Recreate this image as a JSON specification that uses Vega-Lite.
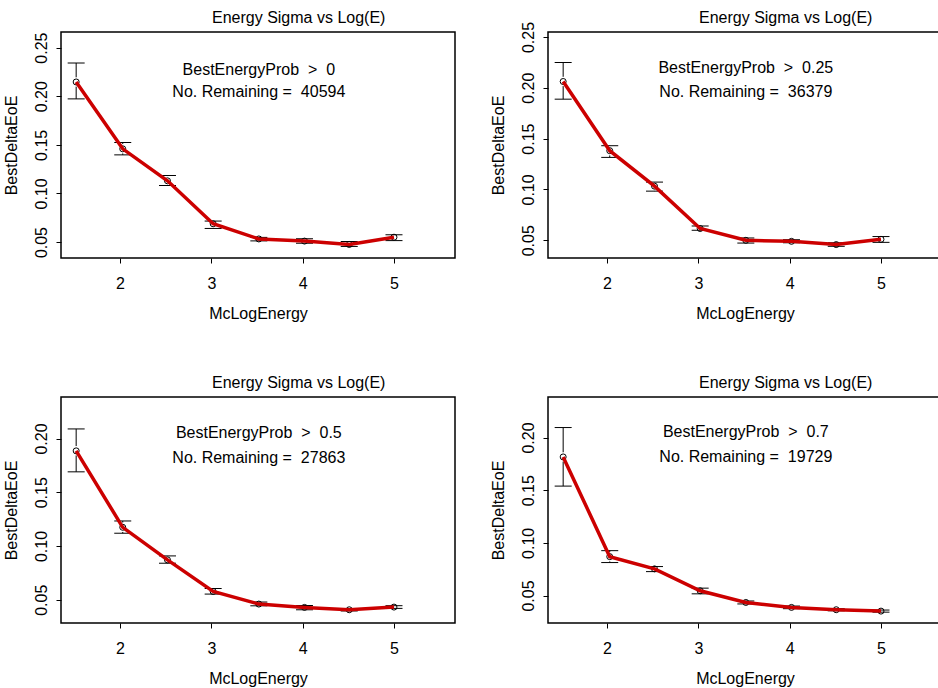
{
 "$schema": "https://vega.github.io/schema/vega-lite/v6.json",
 "autosize": {"type": "none"},
 "padding": {"left": 61, "top": 32, "right": 877, "bottom": 656},
 "background": "white",
 "datasets": {
  "pts": [
   {"panel": "a", "x": 1.52, "mean": 0.2147, "lo": 0.1973, "hi": 0.2342},
   {"panel": "a", "x": 2.03, "mean": 0.1459, "lo": 0.1397, "hi": 0.1524},
   {"panel": "a", "x": 2.52, "mean": 0.1130, "lo": 0.1082, "hi": 0.1185},
   {"panel": "a", "x": 3.02, "mean": 0.0688, "lo": 0.0640, "hi": 0.0716},
   {"panel": "a", "x": 3.52, "mean": 0.0532, "lo": 0.0512, "hi": 0.0548},
   {"panel": "a", "x": 4.02, "mean": 0.0510, "lo": 0.0488, "hi": 0.0534},
   {"panel": "a", "x": 4.51, "mean": 0.0475, "lo": 0.0455, "hi": 0.0506},
   {"panel": "a", "x": 5.00, "mean": 0.0550, "lo": 0.0515, "hi": 0.0575},
   {"panel": "b", "x": 1.52, "mean": 0.2062, "lo": 0.1888, "hi": 0.2249},
   {"panel": "b", "x": 2.03, "mean": 0.1381, "lo": 0.1315, "hi": 0.1430},
   {"panel": "b", "x": 2.52, "mean": 0.1032, "lo": 0.0983, "hi": 0.1072},
   {"panel": "b", "x": 3.02, "mean": 0.0615, "lo": 0.0598, "hi": 0.0640},
   {"panel": "b", "x": 3.52, "mean": 0.0499, "lo": 0.0472, "hi": 0.0522},
   {"panel": "b", "x": 4.02, "mean": 0.0489, "lo": 0.0475, "hi": 0.0505},
   {"panel": "b", "x": 4.51, "mean": 0.0457, "lo": 0.0440, "hi": 0.0475},
   {"panel": "b", "x": 5.00, "mean": 0.0509, "lo": 0.0479, "hi": 0.0536},
   {"panel": "c", "x": 1.52, "mean": 0.1885, "lo": 0.1690, "hi": 0.2089},
   {"panel": "c", "x": 2.03, "mean": 0.1174, "lo": 0.1119, "hi": 0.1233},
   {"panel": "c", "x": 2.52, "mean": 0.0871, "lo": 0.0840, "hi": 0.0908},
   {"panel": "c", "x": 3.02, "mean": 0.0577, "lo": 0.0553, "hi": 0.0605},
   {"panel": "c", "x": 3.52, "mean": 0.0460, "lo": 0.0444, "hi": 0.0479},
   {"panel": "c", "x": 4.02, "mean": 0.0429, "lo": 0.0407, "hi": 0.0447},
   {"panel": "c", "x": 4.51, "mean": 0.0407, "lo": 0.0396, "hi": 0.0418},
   {"panel": "c", "x": 5.00, "mean": 0.0432, "lo": 0.0420, "hi": 0.0445},
   {"panel": "d", "x": 1.52, "mean": 0.1816, "lo": 0.1539, "hi": 0.2095},
   {"panel": "d", "x": 2.03, "mean": 0.0869, "lo": 0.0813, "hi": 0.0926},
   {"panel": "d", "x": 2.52, "mean": 0.0753, "lo": 0.0727, "hi": 0.0775},
   {"panel": "d", "x": 3.02, "mean": 0.0545, "lo": 0.0516, "hi": 0.0570},
   {"panel": "d", "x": 3.52, "mean": 0.0434, "lo": 0.0420, "hi": 0.0448},
   {"panel": "d", "x": 4.02, "mean": 0.0387, "lo": 0.0375, "hi": 0.0400},
   {"panel": "d", "x": 4.51, "mean": 0.0365, "lo": 0.0355, "hi": 0.0375},
   {"panel": "d", "x": 5.00, "mean": 0.0352, "lo": 0.0342, "hi": 0.0362}
  ],
  "notes": [
   {"panel": "a", "cond": "BestEnergyProb\u00a0\u00a0>\u00a0\u00a00", "count": "No. Remaining =\u00a0\u00a040594"},
   {"panel": "b", "cond": "BestEnergyProb\u00a0\u00a0>\u00a0\u00a00.25", "count": "No. Remaining =\u00a0\u00a036379"},
   {"panel": "c", "cond": "BestEnergyProb\u00a0\u00a0>\u00a0\u00a00.5", "count": "No. Remaining =\u00a0\u00a027863"},
   {"panel": "d", "cond": "BestEnergyProb\u00a0\u00a0>\u00a0\u00a00.7", "count": "No. Remaining =\u00a0\u00a019729"}
  ]
 },
 "columns": 2,
 "spacing": {"row": 139, "column": 93},
 "bounds": "flush",
 "concat": [
  {
   "width": 394, "height": 226,
   "title": "Energy Sigma vs Log(E)",
   "layer": [
    {"data": {"name": "pts"}, "transform": [{"filter": "datum.panel === 'a'"}],
     "mark": {"type": "rule", "color": "black", "strokeWidth": 1},
     "encoding": {
      "x": {"field": "x", "type": "quantitative", "scale": {"domain": [1.354, 5.668], "nice": false, "zero": false}, "axis": {"values": [2, 3, 4, 5], "format": "d"}, "title": "McLogEnergy"},
      "y": {"field": "lo", "type": "quantitative", "scale": {"domain": [0.0336, 0.2661], "nice": false, "zero": false}, "axis": {"values": [0.05, 0.1, 0.15, 0.2, 0.25], "format": ".2f"}, "title": "BestDeltaEoE"},
      "y2": {"field": "hi"}}},
    {"data": {"name": "pts"}, "transform": [{"filter": "datum.panel === 'a'"}],
     "mark": {"type": "point", "shape": "circle", "filled": true, "color": "white", "size": 90, "opacity": 1, "strokeWidth": 0},
     "encoding": {
      "x": {"field": "x", "type": "quantitative", "scale": {"domain": [1.354, 5.668], "nice": false, "zero": false}, "title": "McLogEnergy"},
      "y": {"field": "mean", "type": "quantitative", "scale": {"domain": [0.0336, 0.2661], "nice": false, "zero": false}, "title": "BestDeltaEoE"}}},
    {"data": {"name": "pts"}, "transform": [{"filter": "datum.panel === 'a'"}],
     "mark": {"type": "tick", "orient": "horizontal", "color": "black", "size": 17, "thickness": 1, "opacity": 1},
     "encoding": {
      "x": {"field": "x", "type": "quantitative", "scale": {"domain": [1.354, 5.668], "nice": false, "zero": false}, "title": "McLogEnergy"},
      "y": {"field": "hi", "type": "quantitative", "scale": {"domain": [0.0336, 0.2661], "nice": false, "zero": false}, "title": "BestDeltaEoE"}}},
    {"data": {"name": "pts"}, "transform": [{"filter": "datum.panel === 'a'"}],
     "mark": {"type": "tick", "orient": "horizontal", "color": "black", "size": 17, "thickness": 1, "opacity": 1},
     "encoding": {
      "x": {"field": "x", "type": "quantitative", "scale": {"domain": [1.354, 5.668], "nice": false, "zero": false}, "title": "McLogEnergy"},
      "y": {"field": "lo", "type": "quantitative", "scale": {"domain": [0.0336, 0.2661], "nice": false, "zero": false}, "title": "BestDeltaEoE"}}},
    {"data": {"name": "pts"}, "transform": [{"filter": "datum.panel === 'a'"}],
     "mark": {"type": "point", "shape": "circle", "filled": false, "stroke": "black", "size": 36, "strokeWidth": 1, "opacity": 1},
     "encoding": {
      "x": {"field": "x", "type": "quantitative", "scale": {"domain": [1.354, 5.668], "nice": false, "zero": false}, "title": "McLogEnergy"},
      "y": {"field": "mean", "type": "quantitative", "scale": {"domain": [0.0336, 0.2661], "nice": false, "zero": false}, "title": "BestDeltaEoE"}}},
    {"data": {"name": "pts"}, "transform": [{"filter": "datum.panel === 'a'"}],
     "mark": {"type": "line", "color": "#cc0000", "strokeWidth": 3.5},
     "encoding": {
      "x": {"field": "x", "type": "quantitative", "scale": {"domain": [1.354, 5.668], "nice": false, "zero": false}, "title": "McLogEnergy"},
      "y": {"field": "mean", "type": "quantitative", "scale": {"domain": [0.0336, 0.2661], "nice": false, "zero": false}, "title": "BestDeltaEoE"}}},
    {"data": {"name": "notes"}, "transform": [{"filter": "datum.panel === 'a'"}],
     "mark": {"type": "text", "align": "center", "baseline": "alphabetic", "fontSize": 16, "font": "Liberation Sans", "color": "black"},
     "encoding": {
      "x": {"datum": 3.52, "type": "quantitative", "scale": {"domain": [1.354, 5.668], "nice": false, "zero": false}, "title": "McLogEnergy"},
      "y": {"datum": 0.2219, "type": "quantitative", "scale": {"domain": [0.0336, 0.2661], "nice": false, "zero": false}, "title": "BestDeltaEoE"},
      "text": {"field": "cond"}}},
    {"data": {"name": "notes"}, "transform": [{"filter": "datum.panel === 'a'"}],
     "mark": {"type": "text", "align": "center", "baseline": "alphabetic", "fontSize": 16, "font": "Liberation Sans", "color": "black"},
     "encoding": {
      "x": {"datum": 3.52, "type": "quantitative", "scale": {"domain": [1.354, 5.668], "nice": false, "zero": false}, "title": "McLogEnergy"},
      "y": {"datum": 0.1996, "type": "quantitative", "scale": {"domain": [0.0336, 0.2661], "nice": false, "zero": false}, "title": "BestDeltaEoE"},
      "text": {"field": "count"}}}
   ]
  },
  {
   "width": 394, "height": 226,
   "title": {"text": "Energy Sigma vs Log(E)", "offset": -4.6},
   "layer": [
    {"data": {"name": "pts"}, "transform": [{"filter": "datum.panel === 'b'"}],
     "mark": {"type": "rule", "color": "black", "strokeWidth": 1},
     "encoding": {
      "x": {"field": "x", "type": "quantitative", "scale": {"domain": [1.354, 5.668], "nice": false, "zero": false}, "axis": {"values": [2, 3, 4, 5], "format": "d"}, "title": "McLogEnergy"},
      "y": {"field": "lo", "type": "quantitative", "scale": {"domain": [0.0325, 0.2549], "nice": false, "zero": false}, "axis": {"values": [0.05, 0.1, 0.15, 0.2, 0.25], "format": ".2f"}, "title": "BestDeltaEoE"},
      "y2": {"field": "hi"}}},
    {"data": {"name": "pts"}, "transform": [{"filter": "datum.panel === 'b'"}],
     "mark": {"type": "point", "shape": "circle", "filled": true, "color": "white", "size": 90, "opacity": 1, "strokeWidth": 0},
     "encoding": {
      "x": {"field": "x", "type": "quantitative", "scale": {"domain": [1.354, 5.668], "nice": false, "zero": false}, "title": "McLogEnergy"},
      "y": {"field": "mean", "type": "quantitative", "scale": {"domain": [0.0325, 0.2549], "nice": false, "zero": false}, "title": "BestDeltaEoE"}}},
    {"data": {"name": "pts"}, "transform": [{"filter": "datum.panel === 'b'"}],
     "mark": {"type": "tick", "orient": "horizontal", "color": "black", "size": 17, "thickness": 1, "opacity": 1},
     "encoding": {
      "x": {"field": "x", "type": "quantitative", "scale": {"domain": [1.354, 5.668], "nice": false, "zero": false}, "title": "McLogEnergy"},
      "y": {"field": "hi", "type": "quantitative", "scale": {"domain": [0.0325, 0.2549], "nice": false, "zero": false}, "title": "BestDeltaEoE"}}},
    {"data": {"name": "pts"}, "transform": [{"filter": "datum.panel === 'b'"}],
     "mark": {"type": "tick", "orient": "horizontal", "color": "black", "size": 17, "thickness": 1, "opacity": 1},
     "encoding": {
      "x": {"field": "x", "type": "quantitative", "scale": {"domain": [1.354, 5.668], "nice": false, "zero": false}, "title": "McLogEnergy"},
      "y": {"field": "lo", "type": "quantitative", "scale": {"domain": [0.0325, 0.2549], "nice": false, "zero": false}, "title": "BestDeltaEoE"}}},
    {"data": {"name": "pts"}, "transform": [{"filter": "datum.panel === 'b'"}],
     "mark": {"type": "point", "shape": "circle", "filled": false, "stroke": "black", "size": 36, "strokeWidth": 1, "opacity": 1},
     "encoding": {
      "x": {"field": "x", "type": "quantitative", "scale": {"domain": [1.354, 5.668], "nice": false, "zero": false}, "title": "McLogEnergy"},
      "y": {"field": "mean", "type": "quantitative", "scale": {"domain": [0.0325, 0.2549], "nice": false, "zero": false}, "title": "BestDeltaEoE"}}},
    {"data": {"name": "pts"}, "transform": [{"filter": "datum.panel === 'b'"}],
     "mark": {"type": "line", "color": "#cc0000", "strokeWidth": 3.5},
     "encoding": {
      "x": {"field": "x", "type": "quantitative", "scale": {"domain": [1.354, 5.668], "nice": false, "zero": false}, "title": "McLogEnergy"},
      "y": {"field": "mean", "type": "quantitative", "scale": {"domain": [0.0325, 0.2549], "nice": false, "zero": false}, "title": "BestDeltaEoE"}}},
    {"data": {"name": "notes"}, "transform": [{"filter": "datum.panel === 'b'"}],
     "mark": {"type": "text", "align": "center", "baseline": "alphabetic", "fontSize": 16, "font": "Liberation Sans", "color": "black"},
     "encoding": {
      "x": {"datum": 3.52, "type": "quantitative", "scale": {"domain": [1.354, 5.668], "nice": false, "zero": false}, "title": "McLogEnergy"},
      "y": {"datum": 0.2145, "type": "quantitative", "scale": {"domain": [0.0325, 0.2549], "nice": false, "zero": false}, "title": "BestDeltaEoE"},
      "text": {"field": "cond"}}},
    {"data": {"name": "notes"}, "transform": [{"filter": "datum.panel === 'b'"}],
     "mark": {"type": "text", "align": "center", "baseline": "alphabetic", "fontSize": 16, "font": "Liberation Sans", "color": "black"},
     "encoding": {
      "x": {"datum": 3.52, "type": "quantitative", "scale": {"domain": [1.354, 5.668], "nice": false, "zero": false}, "title": "McLogEnergy"},
      "y": {"datum": 0.1908, "type": "quantitative", "scale": {"domain": [0.0325, 0.2549], "nice": false, "zero": false}, "title": "BestDeltaEoE"},
      "text": {"field": "count"}}}
   ]
  },
  {
   "width": 394, "height": 226,
   "title": "Energy Sigma vs Log(E)",
   "layer": [
    {"data": {"name": "pts"}, "transform": [{"filter": "datum.panel === 'c'"}],
     "mark": {"type": "rule", "color": "black", "strokeWidth": 1},
     "encoding": {
      "x": {"field": "x", "type": "quantitative", "scale": {"domain": [1.354, 5.668], "nice": false, "zero": false}, "axis": {"values": [2, 3, 4, 5], "format": "d"}, "title": "McLogEnergy"},
      "y": {"field": "lo", "type": "quantitative", "scale": {"domain": [0.0284, 0.2386], "nice": false, "zero": false}, "axis": {"values": [0.05, 0.1, 0.15, 0.2], "format": ".2f"}, "title": "BestDeltaEoE"},
      "y2": {"field": "hi"}}},
    {"data": {"name": "pts"}, "transform": [{"filter": "datum.panel === 'c'"}],
     "mark": {"type": "point", "shape": "circle", "filled": true, "color": "white", "size": 90, "opacity": 1, "strokeWidth": 0},
     "encoding": {
      "x": {"field": "x", "type": "quantitative", "scale": {"domain": [1.354, 5.668], "nice": false, "zero": false}, "title": "McLogEnergy"},
      "y": {"field": "mean", "type": "quantitative", "scale": {"domain": [0.0284, 0.2386], "nice": false, "zero": false}, "title": "BestDeltaEoE"}}},
    {"data": {"name": "pts"}, "transform": [{"filter": "datum.panel === 'c'"}],
     "mark": {"type": "tick", "orient": "horizontal", "color": "black", "size": 17, "thickness": 1, "opacity": 1},
     "encoding": {
      "x": {"field": "x", "type": "quantitative", "scale": {"domain": [1.354, 5.668], "nice": false, "zero": false}, "title": "McLogEnergy"},
      "y": {"field": "hi", "type": "quantitative", "scale": {"domain": [0.0284, 0.2386], "nice": false, "zero": false}, "title": "BestDeltaEoE"}}},
    {"data": {"name": "pts"}, "transform": [{"filter": "datum.panel === 'c'"}],
     "mark": {"type": "tick", "orient": "horizontal", "color": "black", "size": 17, "thickness": 1, "opacity": 1},
     "encoding": {
      "x": {"field": "x", "type": "quantitative", "scale": {"domain": [1.354, 5.668], "nice": false, "zero": false}, "title": "McLogEnergy"},
      "y": {"field": "lo", "type": "quantitative", "scale": {"domain": [0.0284, 0.2386], "nice": false, "zero": false}, "title": "BestDeltaEoE"}}},
    {"data": {"name": "pts"}, "transform": [{"filter": "datum.panel === 'c'"}],
     "mark": {"type": "point", "shape": "circle", "filled": false, "stroke": "black", "size": 36, "strokeWidth": 1, "opacity": 1},
     "encoding": {
      "x": {"field": "x", "type": "quantitative", "scale": {"domain": [1.354, 5.668], "nice": false, "zero": false}, "title": "McLogEnergy"},
      "y": {"field": "mean", "type": "quantitative", "scale": {"domain": [0.0284, 0.2386], "nice": false, "zero": false}, "title": "BestDeltaEoE"}}},
    {"data": {"name": "pts"}, "transform": [{"filter": "datum.panel === 'c'"}],
     "mark": {"type": "line", "color": "#cc0000", "strokeWidth": 3.5},
     "encoding": {
      "x": {"field": "x", "type": "quantitative", "scale": {"domain": [1.354, 5.668], "nice": false, "zero": false}, "title": "McLogEnergy"},
      "y": {"field": "mean", "type": "quantitative", "scale": {"domain": [0.0284, 0.2386], "nice": false, "zero": false}, "title": "BestDeltaEoE"}}},
    {"data": {"name": "notes"}, "transform": [{"filter": "datum.panel === 'c'"}],
     "mark": {"type": "text", "align": "center", "baseline": "alphabetic", "fontSize": 16, "font": "Liberation Sans", "color": "black"},
     "encoding": {
      "x": {"datum": 3.52, "type": "quantitative", "scale": {"domain": [1.354, 5.668], "nice": false, "zero": false}, "title": "McLogEnergy"},
      "y": {"datum": 0.2006, "type": "quantitative", "scale": {"domain": [0.0284, 0.2386], "nice": false, "zero": false}, "title": "BestDeltaEoE"},
      "text": {"field": "cond"}}},
    {"data": {"name": "notes"}, "transform": [{"filter": "datum.panel === 'c'"}],
     "mark": {"type": "text", "align": "center", "baseline": "alphabetic", "fontSize": 16, "font": "Liberation Sans", "color": "black"},
     "encoding": {
      "x": {"datum": 3.52, "type": "quantitative", "scale": {"domain": [1.354, 5.668], "nice": false, "zero": false}, "title": "McLogEnergy"},
      "y": {"datum": 0.1774, "type": "quantitative", "scale": {"domain": [0.0284, 0.2386], "nice": false, "zero": false}, "title": "BestDeltaEoE"},
      "text": {"field": "count"}}}
   ]
  },
  {
   "width": 394, "height": 226,
   "title": "Energy Sigma vs Log(E)",
   "layer": [
    {"data": {"name": "pts"}, "transform": [{"filter": "datum.panel === 'd'"}],
     "mark": {"type": "rule", "color": "black", "strokeWidth": 1},
     "encoding": {
      "x": {"field": "x", "type": "quantitative", "scale": {"domain": [1.354, 5.668], "nice": false, "zero": false}, "axis": {"values": [2, 3, 4, 5], "format": "d"}, "title": "McLogEnergy"},
      "y": {"field": "lo", "type": "quantitative", "scale": {"domain": [0.0239, 0.2385], "nice": false, "zero": false}, "axis": {"values": [0.05, 0.1, 0.15, 0.2], "format": ".2f"}, "title": "BestDeltaEoE"},
      "y2": {"field": "hi"}}},
    {"data": {"name": "pts"}, "transform": [{"filter": "datum.panel === 'd'"}],
     "mark": {"type": "point", "shape": "circle", "filled": true, "color": "white", "size": 90, "opacity": 1, "strokeWidth": 0},
     "encoding": {
      "x": {"field": "x", "type": "quantitative", "scale": {"domain": [1.354, 5.668], "nice": false, "zero": false}, "title": "McLogEnergy"},
      "y": {"field": "mean", "type": "quantitative", "scale": {"domain": [0.0239, 0.2385], "nice": false, "zero": false}, "title": "BestDeltaEoE"}}},
    {"data": {"name": "pts"}, "transform": [{"filter": "datum.panel === 'd'"}],
     "mark": {"type": "tick", "orient": "horizontal", "color": "black", "size": 17, "thickness": 1, "opacity": 1},
     "encoding": {
      "x": {"field": "x", "type": "quantitative", "scale": {"domain": [1.354, 5.668], "nice": false, "zero": false}, "title": "McLogEnergy"},
      "y": {"field": "hi", "type": "quantitative", "scale": {"domain": [0.0239, 0.2385], "nice": false, "zero": false}, "title": "BestDeltaEoE"}}},
    {"data": {"name": "pts"}, "transform": [{"filter": "datum.panel === 'd'"}],
     "mark": {"type": "tick", "orient": "horizontal", "color": "black", "size": 17, "thickness": 1, "opacity": 1},
     "encoding": {
      "x": {"field": "x", "type": "quantitative", "scale": {"domain": [1.354, 5.668], "nice": false, "zero": false}, "title": "McLogEnergy"},
      "y": {"field": "lo", "type": "quantitative", "scale": {"domain": [0.0239, 0.2385], "nice": false, "zero": false}, "title": "BestDeltaEoE"}}},
    {"data": {"name": "pts"}, "transform": [{"filter": "datum.panel === 'd'"}],
     "mark": {"type": "point", "shape": "circle", "filled": false, "stroke": "black", "size": 36, "strokeWidth": 1, "opacity": 1},
     "encoding": {
      "x": {"field": "x", "type": "quantitative", "scale": {"domain": [1.354, 5.668], "nice": false, "zero": false}, "title": "McLogEnergy"},
      "y": {"field": "mean", "type": "quantitative", "scale": {"domain": [0.0239, 0.2385], "nice": false, "zero": false}, "title": "BestDeltaEoE"}}},
    {"data": {"name": "pts"}, "transform": [{"filter": "datum.panel === 'd'"}],
     "mark": {"type": "line", "color": "#cc0000", "strokeWidth": 3.5},
     "encoding": {
      "x": {"field": "x", "type": "quantitative", "scale": {"domain": [1.354, 5.668], "nice": false, "zero": false}, "title": "McLogEnergy"},
      "y": {"field": "mean", "type": "quantitative", "scale": {"domain": [0.0239, 0.2385], "nice": false, "zero": false}, "title": "BestDeltaEoE"}}},
    {"data": {"name": "notes"}, "transform": [{"filter": "datum.panel === 'd'"}],
     "mark": {"type": "text", "align": "center", "baseline": "alphabetic", "fontSize": 16, "font": "Liberation Sans", "color": "black"},
     "encoding": {
      "x": {"datum": 3.52, "type": "quantitative", "scale": {"domain": [1.354, 5.668], "nice": false, "zero": false}, "title": "McLogEnergy"},
      "y": {"datum": 0.2006, "type": "quantitative", "scale": {"domain": [0.0239, 0.2385], "nice": false, "zero": false}, "title": "BestDeltaEoE"},
      "text": {"field": "cond"}}},
    {"data": {"name": "notes"}, "transform": [{"filter": "datum.panel === 'd'"}],
     "mark": {"type": "text", "align": "center", "baseline": "alphabetic", "fontSize": 16, "font": "Liberation Sans", "color": "black"},
     "encoding": {
      "x": {"datum": 3.52, "type": "quantitative", "scale": {"domain": [1.354, 5.668], "nice": false, "zero": false}, "title": "McLogEnergy"},
      "y": {"datum": 0.1769, "type": "quantitative", "scale": {"domain": [0.0239, 0.2385], "nice": false, "zero": false}, "title": "BestDeltaEoE"},
      "text": {"field": "count"}}}
   ]
  }
 ],
 "config": {
  "font": "Liberation Sans",
  "view": {"stroke": "black", "strokeWidth": 1.5, "fill": "white"},
  "title": {"font": "Liberation Sans", "fontSize": 16, "fontWeight": "normal", "color": "black", "anchor": "start", "frame": "group", "align": "center", "dx": 151, "offset": 6},
  "axis": {"domain": false, "grid": false, "ticks": true, "tickColor": "black", "tickSize": 5, "tickWidth": 1,
           "labelFont": "Liberation Sans", "labelFontSize": 16, "labelColor": "black", "labelOverlap": false, "labelFlush": false,
           "titleFont": "Liberation Sans", "titleFontSize": 16, "titleFontWeight": "normal", "titleColor": "black"},
  "axisX": {"labelAngle": 0, "labelBaseline": "alphabetic", "labelPadding": 25, "titleBaseline": "alphabetic", "titleY": 60},
  "axisY": {"labelAngle": 270, "labelAlign": "center", "labelBaseline": "alphabetic", "labelPadding": 10, "titleAngle": 270, "titleAlign": "center", "titleBaseline": "alphabetic", "titleX": -45, "titleY": 113}
 }
}
